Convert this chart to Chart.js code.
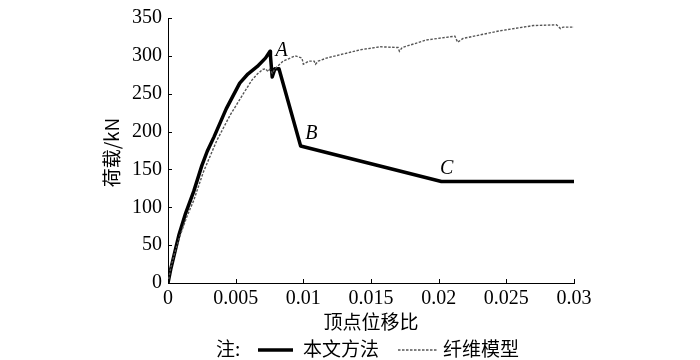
<!DOCTYPE html>
<html>
<head>
<meta charset="utf-8">
<script src="https://cdn.jsdelivr.net/npm/chart.js@4/dist/chart.umd.min.js"></script>
<style>
  html, body { margin: 0; padding: 0; background: #fff; }
  #wrap { width: 700px; height: 360px; }
</style>
</head>
<body>
<div id="wrap"><canvas id="chart-area"></canvas></div>
<script>
// 本文方法 (solid black)
var methodX = [0, 0.0002, 0.0004, 0.0008, 0.0013, 0.0019, 0.0025, 0.0029, 0.0034, 0.0043, 0.0053, 0.0059, 0.0066, 0.0072, 0.00754, 0.00757, 0.0077, 0.0079, 0.0082, 0.0098, 0.0202, 0.03];
var methodY = [0, 18, 33, 63, 92, 121, 155, 174, 193, 230, 264, 276, 286, 297, 306, 300, 272, 283, 283, 181, 134, 134];

// 纤维模型 (grey dashed)
var fiberX = [0, 0.0002, 0.0005, 0.0009, 0.0014, 0.0019, 0.0026, 0.0036, 0.0046, 0.0056, 0.0062, 0.0066, 0.0070, 0.0072, 0.0074, 0.0075, 0.0077, 0.0079, 0.0085, 0.0094, 0.0099, 0.0100, 0.0104, 0.0108, 0.0109, 0.0111, 0.0117, 0.0142, 0.0157, 0.0170, 0.0171, 0.0173, 0.0191, 0.0212, 0.0214, 0.0218, 0.0245, 0.0270, 0.0287, 0.0290, 0.0292, 0.03];
var fiberY = [0, 20, 40, 63, 88, 109, 146, 188, 222, 251, 268, 276, 282, 283, 279, 282, 277, 283, 293, 300, 297, 289, 293, 293, 289, 293, 297, 308, 312, 311, 306, 311, 321, 326, 318, 323, 333, 340, 341, 336, 338, 338];

var xTicks = [0, 0.005, 0.01, 0.015, 0.02, 0.025, 0.03];
var xTickLabels = ['0', '0.005', '0.01', '0.015', '0.02', '0.025', '0.03'];
var yTicks = [0, 50, 100, 150, 200, 250, 300, 350];

// point labels on the curve
var markNames = ['A', 'B', 'C'];
var markX = [0.0084, 0.0106, 0.0206];
var markY = [307, 197, 151];

var serif = '"Liberation Serif", "DejaVu Serif", serif';
var cjk = '"Noto Sans CJK SC", sans-serif';

function toPoints(xs, ys) {
  return xs.map(function(x, i) { return { x: x, y: ys[i] }; });
}

var extras = {
  id: 'extras',
  afterDraw: function(chart) {
    var ctx = chart.ctx;
    var xs = chart.scales.x, ys = chart.scales.y;
    var area = chart.chartArea;
    ctx.save();
    // inward tick marks
    ctx.strokeStyle = '#000';
    ctx.lineWidth = 1;
    ctx.beginPath();
    xTicks.forEach(function(v) {
      var px = Math.round(xs.getPixelForValue(v)) + 0.5;
      ctx.moveTo(px, area.bottom);
      ctx.lineTo(px, area.bottom - 4);
    });
    yTicks.forEach(function(v) {
      var py = Math.round(ys.getPixelForValue(v)) + 0.5;
      ctx.moveTo(area.left, py);
      ctx.lineTo(area.left + 4, py);
    });
    ctx.stroke();

    // A, B, C
    ctx.fillStyle = '#000';
    ctx.font = 'italic 20px ' + serif;
    ctx.textAlign = 'center';
    ctx.textBaseline = 'middle';
    markNames.forEach(function(n, i) {
      ctx.fillText(n, xs.getPixelForValue(markX[i]), ys.getPixelForValue(markY[i]));
    });

    // axis titles
    ctx.font = '19px ' + cjk;
    ctx.fillText('顶点位移比', (area.left + area.right) / 2, 322);
    ctx.save();
    ctx.translate(112, (area.top + area.bottom) / 2 + 2);
    ctx.rotate(-Math.PI / 2);
    ctx.fillText('荷载/kN', 0, 0);
    ctx.restore();

    // legend
    var ly = 349;
    ctx.textAlign = 'left';
    ctx.fillText('注:', 216, ly);
    ctx.fillText('本文方法', 303, ly);
    ctx.fillText('纤维模型', 443, ly);
    ctx.lineWidth = 3.5;
    ctx.beginPath();
    ctx.moveTo(258, ly + 1);
    ctx.lineTo(293, ly + 1);
    ctx.stroke();
    ctx.strokeStyle = '#555';
    ctx.lineWidth = 1.3;
    ctx.setLineDash([2.5, 1.5]);
    ctx.beginPath();
    ctx.moveTo(398, ly + 1);
    ctx.lineTo(437, ly + 1);
    ctx.stroke();
    ctx.restore();
  }
};

var config = {
  type: 'line',
  data: {
    datasets: [{
      label: '纤维模型',
      data: toPoints(fiberX, fiberY),
      borderColor: '#555',
      borderWidth: 1.4,
      borderDash: [2.5, 1.5],
      pointRadius: 0,
      tension: 0,
      fill: false
    }, {
      label: '本文方法',
      data: toPoints(methodX, methodY),
      borderColor: '#000',
      borderWidth: 3.5,
      borderJoinStyle: 'round',
      pointRadius: 0,
      tension: 0,
      fill: false
    }]
  },
  options: {
    responsive: false,
    animation: false,
    layout: { padding: { top: 5, right: 126, bottom: 27, left: 0 } },
    plugins: {
      legend: { display: false },
      tooltip: { enabled: false }
    },
    scales: {
      x: {
        type: 'linear',
        min: 0,
        max: 0.03,
        afterFit: function(s) { s.height = 50; },
        afterBuildTicks: function(s) { s.ticks = xTicks.map(function(v) { return { value: v }; }); },
        grid: { display: false, drawTicks: false },
        border: { display: true, color: '#000', width: 1 },
        ticks: {
          padding: 4,
          color: '#000',
          font: { family: serif, size: 20 },
          maxRotation: 0,
          callback: function(v) {
            var i = xTicks.indexOf(v);
            return i >= 0 ? xTickLabels[i] : '';
          }
        }
      },
      y: {
        min: 0,
        max: 350,
        afterFit: function(s) { s.width = 168; },
        afterBuildTicks: function(s) { s.ticks = yTicks.map(function(v) { return { value: v }; }); },
        grid: { display: false, drawTicks: false },
        border: { display: true, color: '#000', width: 1 },
        ticks: {
          padding: 6,
          color: '#000',
          font: { family: serif, size: 20 }
        }
      }
    }
  }
};

window.onload = function() {
  var canvas = document.getElementById('chart-area');
  canvas.width = 700;
  canvas.height = 360;
  var ctx = canvas.getContext('2d');
  window.myChart = new Chart(ctx, Object.assign(config, { plugins: [extras] }));
};
</script>
</body>
</html>
